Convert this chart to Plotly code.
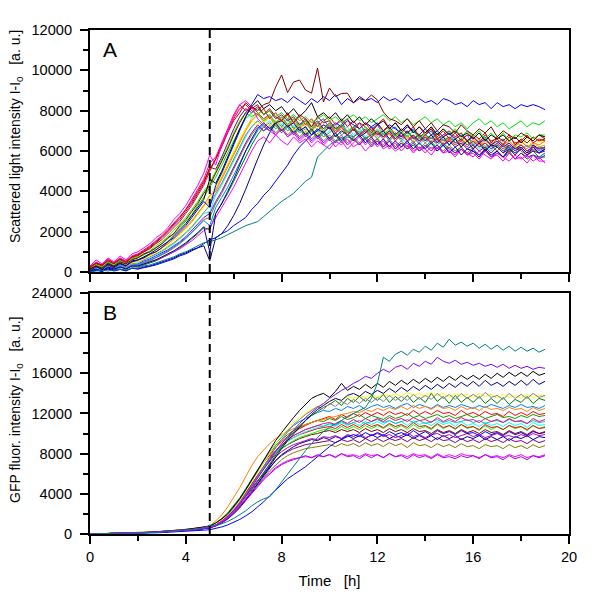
import plotly.graph_objects as go

# ---------------- data ----------------
time_h = [i * 0.25 for i in range(77)]          # 0 ... 19 h, 15 min sampling
induction_time_h = 5.0

# Panel A: scattered light intensity I-I0 [a.u.]
scat_wine = [100,300,200,450, 300,500,400,600, 700,900,1000,1200, 1400,1700,1900,2300, 2600,3000,3400,3900, 4300,4900,5500,6100, 6800,7400,7900,8200, 8000,8300,8400,9170, 9770,8900,9420,9520, 9020,8870,10110,8430, 9120,8700,8850,8870, 8380,8600,8500,8780, 8530,7930,7600,7500, 7300,7600,7200,7500, 7100,7400,7000,7300, 7200,6900,7300,7000, 6800,7100,6900,7200, 6700,7000,6800,6600, 6900,6700,6500,6800, 6600]
scat_blue = [50,250,150,350, 200,400,300,500, 600,700,900,1000, 1200,1500,1700,2000, 2300,2700,3100,3500, 3200,4300,4900,5600, 6300,7000,7700,8300, 8800,8600,8700,8500, 8600,8400,8700,8500, 8300,8600,8400,8700, 8500,8800,8300,8600, 8400,8700,8500,8600, 8400,8700,8500,8600, 8400,8800,8500,8600, 8400,8500,8300,8600, 8500,8300,8400,8200, 8500,8300,8400,8100, 8400,8200,8300,8100, 8300,8200,8300,8200, 8050]
scat_navy = [0,100,50,200, 100,150,50,200, 150,250,300,400, 500,600,700,850, 950,1100,1200,1300, 550,1700,1900,2300, 2800,3400,4100,4900, 5600,6300,6900,7400, 7500,7200,7400,7000, 7200,6800,7100,6900, 7200,6700,7000,6800, 7100,6700,6900,7200, 6800,7000,6600,6900, 6700,7000,6600,6800, 6500,6800,6400,6700, 6300,6600,6200,6500, 6100,6400,6000,6300, 6200,5900,6300,6000, 6200,5900,6300,6100, 6200]
scat_blue_late = [0,80,30,150, 50,120,80,180, 150,200,280,350, 450,550,650,800, 900,1050,1200,1400, 1600,1700,1900,2050, 2300,2500,2700,3100, 3400,3800,4100,4500, 4900,5300,5800,6200, 6500,6800,7000,7300, 7100,7400,7200,7500, 7300,7100,7400,7200, 7400,7000,7300,7100, 6900,7200,7000,6800, 7100,6800,7000,6700, 6900,6600,6800,6500, 6700,6400,6600,6300, 6500,6200,6400,6100, 6300,6000,6200,5900, 6100]
scat_teal = [0,50,100,50, 100,150,100,200, 200,300,350,450, 550,650,750,900, 1000,1150,1300,1450, 1500,1600,1700,1850, 2000,2150,2300,2400, 2500,2750,3000,3250, 3500,3700,3900,4200, 4500,4700,5700,6000, 6300,6500,6600,6800, 6700,6900,6600,6800, 6900,6700,7000,6800, 6600,6900,6700,6500, 6800,6600,6900,6500, 6700,6400,6600,6300, 6500,6200,6400,6100, 6300,6000,6200,5900, 6100,5800,6000,5700, 5900]
scat_red = [200,400,300,600, 450,650,500,700, 800,1000,1150,1400, 1600,1900,2200,2500, 2900,3300,3800,4300, 5000,5600,6300,7000, 7600,8100,8300,8000, 7800,8100,7600,7900, 7500,7800,7400,7700, 7300,7600,7200,7500, 7700,7300,7600,7200, 7500,7100,7400,7000, 7300,7600,7100,7400, 7000,7300,6900,7200, 6800,7100,6700,7000, 6600,6900,6500,6800, 6700,6400,6800,6500, 6600,6300,6700,6400, 6500,6800,6400,6600, 6500]
scat_magenta = [300,600,400,700, 500,800,600,900, 1000,1200,1400,1700, 1900,2200,2600,2900, 3300,3800,4300,4900, 5800,5300,6300,7000, 7700,8300,8500,8200, 7600,7300,7000,6800, 7100,6700,6900,6500, 6800,6400,6700,6300, 6600,6200,6500,6100, 6400,6700,6300,6600, 6200,6500,6100,6400, 6000,6300,5900,6200, 6100,5800,6200,5900, 6000,5700,6100,5800, 5900,5600,6000,5700, 5800,5500,5900,5600, 5700,5400,5800,5500, 5500]
scat_green = [100,350,200,450, 300,550,400,650, 700,850,1000,1200, 1400,1650,1900,2200, 2500,2850,3300,3700, 4200,4700,5300,5900, 6500,7100,7600,7900, 8100,7800,8000,7700, 7900,7600,7800,7500, 7700,7400,7600,7800, 7500,7700,7400,7600, 7800,7500,7700,7400, 7600,7800,7500,7700, 7400,7600,7300,7500, 7700,7400,7600,7300, 7500,7200,7400,7100, 7400,7600,7300,7500, 7200,7400,7100,7300, 7500,7200,7400,7300, 7500]
scat_black = [150,300,100,400, 250,450,300,550, 600,750,900,1100, 1300,1500,1800,2100, 2400,2800,3200,3600, 4600,4400,5000,5700, 6400,7100,7700,8200, 8500,8100,8300,8000, 8200,7800,8100,7700, 8000,8400,7700,7900, 7600,7900,7500,7800, 7400,7700,7300,7600, 7300,7500,7100,7400, 7000,7300,6900,7200, 6900,7200,6800,7100, 6800,7000,6700,6900, 6600,6900,6500,6800, 6600,6800,6500,6700, 6400,6700,6500,6800, 6700]
scat_yellow = [100,250,150,350, 200,400,300,450, 500,650,800,950, 1100,1300,1550,1800, 2100,2450,2800,3200, 3700,4200,4800,5400, 6000,6600,7100,7500, 7300,7600,7200,7500, 7100,7400,7000,7300, 6900,7200,6800,7100, 7300,6900,7200,6800, 7100,6700,7000,6600, 6900,7200,6800,7000, 6700,7000,6600,6900, 6500,6800,6400,6700, 6600,6300,6700,6400, 6500,6200,6600,6300, 6400,6100,6500,6200, 6300,6600,6200,6500, 6400]
scat_cyan = [50,200,100,300, 150,350,250,400, 450,600,700,850, 1000,1200,1400,1650, 1900,2200,2550,2900, 3000,3800,4300,4900, 5500,6100,6700,7200, 7500,7200,7500,7100, 7400,7000,7300,6900, 7200,6800,7100,6700, 7000,7300,6900,7200, 6800,7100,6700,7000, 6600,6900,6500,6800, 6600,6400,6700,6300, 6600,6300,6500,6200, 6500,6200,6400,6100, 6400,6100,6300,6000, 6300,6000,6200,6100, 6300,6000,6200,5900, 6200]
scat_purple = [200,450,300,550, 400,600,450,750, 850,1000,1200,1450, 1700,2000,2300,2600, 3000,3400,3900,4400, 5200,5100,5700,6400, 7100,7700,8100,7900, 8200,7800,8000,7600, 7800,7500,7700,7300, 7600,7200,7500,7100, 7400,7000,7300,6900, 7200,6800,7100,6800, 7000,6700,7000,6600, 6900,6500,6800,6500, 6700,6400,6600,6300, 6500,6200,6400,6100, 6300,6000,6200,5900, 6200,5900,6100,5800, 6100,5800,6000,5900, 6000]
scat_olive = [0,150,50,250, 100,300,150,350, 350,450,550,700, 850,1000,1200,1400, 1650,1950,2250,2600, 2700,3400,3900,4500, 5100,5700,6300,6800, 7200,7000,7300,6900, 7200,6800,7100,6700, 7000,6600,6900,6500, 6800,6500,6800,6400, 6700,6400,6700,6300, 6600,6300,6600,6200, 6500,6200,6500,6100, 6400,6100,6300,6000, 6300,6000,6200,5900, 6200,6400,6100,6300, 6000,6300,5900,6200, 6000,5800,6100,5900, 6100]
scat_dkgreen = [50,200,0,250, 100,250,150,300, 250,350,450,550, 700,850,1000,1200, 1400,1650,1900,2200, 2100,2900,3400,3900, 4500,5100,5700,6300, 6800,7200,7000,7300, 6900,7200,6800,7100, 6700,7000,6600,6900, 6500,6800,6400,6700, 6600,6300,6700,6400, 6600,6200,6500,6100, 6400,6100,6300,6000, 6200,6500,6100,6400, 6100,5900,6200,5800, 6000,5800,6100,5700, 5900,5700,6000,5600, 5900,5600,5800,5700, 5700]
scat_orange = [100,300,200,400, 250,450,350,500, 600,700,850,1000, 1200,1400,1650,1900, 2200,2500,2900,3300, 3800,4000,4600,5200, 5800,6400,7000,7500, 7800,7500,7700,7300, 7600,7200,7500,7100, 7400,7000,7300,6900, 7200,6900,7100,6800, 7100,6800,7000,6700, 7000,6700,6900,6600, 6900,6600,6800,6500, 6800,6500,6700,6400, 6700,6400,6600,6300, 6600,6300,6500,6300, 6600,6300,6500,6200, 6500,6200,6400,6300, 6500]
scat_violet = [0,200,100,350, 200,350,250,450, 400,550,650,800, 950,1100,1300,1500, 1750,2050,2350,2700, 2900,3500,4000,4600, 5200,5800,6400,6900, 7300,7000,7200,6800, 7100,6700,7000,6600, 6900,6500,6800,6400, 6700,6400,6700,6300, 6600,6300,6600,6200, 6500,6200,6500,6100, 6400,6100,6400,6000, 6300,6000,6300,5900, 6200,5900,6100,5800, 6100,5800,6000,5700, 6000,5700,5900,5600, 5900,5700,5800,5600, 5800]
scat_pink = [250,500,350,650, 450,700,550,800, 900,1100,1300,1550, 1800,2100,2400,2750, 3100,3600,4100,4600, 5400,5700,6400,7100, 7800,8300,8000,8200, 7900,7600,7800,7400, 7700,7300,7600,7200, 7500,7100,7400,7000, 7300,6900,7200,6800, 7100,6800,7000,6700, 6900,6600,6900,6500, 6800,6500,6700,6400, 6700,6400,6600,6300, 6600,6300,6500,6200, 6500,6200,6400,6100, 6400,6100,6300,6000, 6300,6000,6200,6100, 6200]
scat_gray = [100,250,150,300, 200,350,250,400, 500,600,750,900, 1050,1250,1450,1700, 1950,2250,2600,3000, 3300,3900,4400,5000, 5600,6200,6800,7200, 7500,7200,7400,7100, 7300,7000,7200,6900, 7100,6800,7000,6700, 6900,7200,6800,7000, 6700,7000,6600,6900, 6600,6900,6500,6800, 6500,6800,6400,6700, 6400,6700,6300,6600, 6300,6600,6200,6500, 6300,6500,6100,6400, 6200,6400,6000,6300, 6100,6300,6000,6200, 6100]
scat_royal = [50,150,50,250, 150,250,150,300, 300,400,500,600, 750,900,1050,1250, 1450,1700,1950,2250, 1000,2900,3400,4000, 4600,5300,6000,6600, 7100,7400,7100,7400, 7000,7300,6900,7200, 6800,7100,6700,7000, 6600,6900,6500,6800, 6500,6800,6400,6700, 6300,6600,6200,6500, 6200,6500,6100,6400, 6100,6400,6000,6300, 5900,6200,5800,6100, 6000,5700,6100,5800, 6000,5700,6100,5900, 6100,5800,6200,5900, 6100]
scat_lime = [150,350,250,500, 350,550,400,650, 750,900,1050,1300, 1500,1750,2050,2350, 2700,3100,3500,4000, 4400,5000,5600,6200, 6900,7500,7900,7700, 7900,7500,7800,7400, 7700,7300,7600,7200, 7500,7100,7400,7000, 7400,7000,7300,6900, 7200,6900,7200,6800, 7100,6800,7100,6700, 7000,6700,7000,6600, 6900,7200,6800,7100, 6800,7100,6700,7000, 6700,7000,6600,6900, 6600,6900,6500,6800, 6700,6900,6600,6800, 6800]
scat_azure = [50,180,90,260, 140,300,200,350, 380,480,600,720, 880,1050,1250,1450, 1700,1950,2250,2550, 2300,3200,3700,4200, 4800,5400,6000,6500, 7000,7300,7000,7500, 7200,7600,7100,7300, 7500,7000,7400,7600, 7100,7300,7500,6900, 7200,7400,6900,7100, 7300,6800,7000,7200, 6700,6900,7100,6600, 6800,7000,6500,6700, 6900,6400,6600,6800, 6300,6500,6700,6200, 6400,6600,6100,6300, 6500,6200,6300,6000, 6200]
scat_dkred = [250,450,350,550, 400,650,500,750, 850,1050,1250,1500, 1750,2050,2350,2700, 3100,3500,4000,4500, 5100,5600,6200,6900, 7500,7900,8400,8100, 8300,7800,8100,7700, 7500,7900,7400,7800, 7600,7200,7700,7400, 7500,7100,7300,7600, 7000,7400,7200,6900, 7300,7000,7200,6800, 7100,6900,7200,6700, 6900,7100,6600,6800, 7000,6700,6900,6500, 6800,6600,6900,6400, 6700,6500,6800,6300, 6600,6400,6700,6500, 6600]
scat_dkyellow = [100,200,300,250, 300,400,350,500, 550,700,850,1000, 1200,1400,1650,1900, 2200,2550,2900,3300, 3500,4100,4700,5300, 5900,6500,7100,7600, 7900,7400,7700,7200, 7500,7800,7100,7400, 7200,7500,7000,7300, 7100,6900,7300,7000, 7200,6800,7000,7100, 6700,7000,6800,6600, 6900,6700,6500,6800, 6600,6800,6400,6700, 6500,6700,6300,6600, 6400,6600,6200,6500, 6300,6500,6200,6400, 6300,6100,6400,6200, 6300]
scat_magenta_low = [0,100,200,100, 150,250,200,300, 300,400,500,600, 700,850,1000,1150, 1350,1550,1800,2050, 2200,2700,3200,3700, 4200,4800,5400,6000, 6500,6700,6400,6800, 6500,6300,6700,6400, 6600,6200,6500,6300, 6100,6500,6300,6600, 6200,6400,6000,6300, 6500,6100,6300,6000, 6200,6400,6000,6200, 5900,6200,6000,6300, 6000,5800,6100,5900, 5700,6000,5800,5600, 5900,5700,5500,5800, 5600,5800,5500,5700, 5400]

# Panel B: GFP fluorescence intensity I-I0 [a.u.]
gfp_teal = [0,10,20,30, 40,50,60,80, 100,120,140,170, 200,240,280,330, 380,440,500,580, 900,800,1000,1250, 1550,1900,2300,2800, 3200,3500,3700,4400, 5200,6000,6800,7600, 8300,9000,9600,10200, 10600,11000,11300,11700, 12000,12300,12600,13500, 15000,17600,17200,17900, 18200,17800,18400,18100, 18700,18300,19000,18600, 19400,18800,19100,18700, 19000,18500,18900,18400, 18800,18300,18700,18200, 18600,18200,18500,18100, 18400]
gfp_violet = [0,10,20,30, 40,50,70,90, 110,130,160,190, 220,260,300,350, 400,460,530,610, 700,900,1250,1700, 2300,3000,3800,4700, 5600,6500,7400,8200, 9000,9700,10400,11000, 11600,12100,12600,13000, 13500,13900,14300,14600, 15000,15300,15700,15500, 16000,16400,16100,16600, 16800,16400,17000,16700, 17200,16900,17600,17200, 17000,17300,16900,17100, 16800,17000,16700,16900, 16600,16900,16500,16800, 16500,16700,16400,16600, 16500]
gfp_black = [0,10,20,30, 40,60,80,100, 120,150,180,210, 250,290,340,390, 450,520,600,680, 780,1100,1500,2000, 2700,3500,4400,5400, 6400,7400,8400,9300, 10100,10900,11600,12300, 12900,13500,13800,14000, 13600,14200,15000,14300, 14700,14400,14900,14500, 15000,14600,15200,14800, 15300,14900,15400,15000, 15500,15100,15600,15200, 15700,15300,15800,15400, 15800,15400,15900,15500, 16000,15600,16100,15700, 16100,15700,16200,15800, 16000]
gfp_navy = [0,10,15,25, 35,45,60,75, 95,115,135,160, 190,220,260,300, 350,400,460,530, 620,800,1100,1500, 2000,2600,3300,4100, 5000,5900,6800,7700, 8500,9300,10000,10700, 11300,11900,12400,12800, 13200,13500,13300,13800, 14000,13700,14200,13900, 14300,14000,14500,14100, 14600,14200,14700,14300, 14800,14400,14900,14500, 15000,14600,15100,14700, 15200,14700,15300,14800, 15100,14700,15200,14800, 15300,14800,15400,14900, 15200]
gfp_gray = [0,10,20,30, 40,55,70,90, 110,130,155,185, 215,250,290,335, 385,440,500,570, 650,900,1250,1700, 2300,3000,3800,4700, 5700,6700,7700,8600, 9400,10200,10900,11400, 11900,12300,12700,12400, 13000,12700,13200,12900, 13400,13000,13500,13100, 13600,13200,13800,13300, 13700,13300,13900,13400, 13800,13400,14000,13500, 13900,13400,14000,13500, 13900,13500,14100,13600, 13800,13400,14000,13500, 13900,13500,14000,13600, 13800]
gfp_dkgreen = [0,10,15,25, 35,50,65,80, 100,120,145,170, 200,235,270,315, 360,415,475,545, 620,850,1150,1550, 2100,2700,3500,4300, 5200,6100,7000,7900, 8700,9500,10200,10800, 11300,11800,12200,12600, 12900,13300,12800,13500, 13100,13700,13200,13800, 13300,13900,13100,13700, 13200,13800,13100,13600, 13100,14000,13200,13700, 13000,13800,13100,13600, 13100,13700,13000,13500, 13000,13600,12900,13400, 13100,13700,13000,13500, 13300]
gfp_orange = [0,15,25,40, 55,70,90,110, 135,160,190,225, 260,300,350,400, 460,530,610,700, 800,1300,1900,2700, 3600,4600,5700,6800, 7700,8400,9000,9500, 9900,10200,10500,10700, 10900,11100,11300,11400, 11600,11700,11900,12000, 12200,12100,12400,12200, 12500,12300,12600,12400, 12700,12400,12800,12500, 12700,12400,12800,12500, 12600,12300,12700,12400, 12600,12300,12700,12400, 12500,12300,12600,12400, 12500,12200,12600,12300, 12500]
gfp_red = [0,10,20,35, 45,60,80,100, 120,145,170,200, 235,275,320,370, 420,485,555,635, 720,1000,1400,1900, 2600,3400,4300,5300, 6200,7100,7900,8600, 9200,9700,10100,10500, 10800,11100,11300,11500, 11700,11400,11900,11600, 12000,11700,12100,11800, 12100,11800,12200,11900, 12100,11800,12300,11900, 12200,11900,12300,12000, 12100,11800,12300,11900, 12100,11800,12200,11900, 12000,11700,12200,11800, 12100,11800,12200,11900, 12000]
gfp_pink = [0,10,20,30, 40,55,75,95, 115,140,165,195, 230,265,310,355, 405,465,535,610, 700,950,1300,1800, 2400,3200,4100,5000, 5900,6800,7600,8300, 8900,9400,9800,10100, 10400,10600,10800,11000, 11100,10900,11300,11000, 11400,11100,11500,11200, 11500,11200,11600,11300, 11500,11200,11600,11300, 11400,11100,11600,11200, 11500,11200,11600,11300, 11400,11100,11500,11200, 11400,11100,11500,11200, 11300,11000,11500,11200, 11400]
gfp_cyan = [0,10,15,25, 35,50,65,85, 105,125,150,180, 210,245,285,330, 380,435,500,575, 660,900,1250,1700, 2300,3000,3900,4800, 5700,6600,7400,8100, 8700,9200,9600,9900, 10200,10400,10600,10800, 10900,10700,11100,10800, 11100,10800,11200,10900, 11200,10900,11300,11000, 11200,10800,11300,10900, 11100,10800,11200,10900, 11100,10700,11200,10800, 11000,10700,11100,10800, 11000,10700,11100,10800, 11000,10600,11100,10800, 10900]
gfp_lime = [0,10,20,30, 40,55,70,90, 110,135,160,190, 225,260,300,350, 400,460,525,600, 690,950,1300,1800, 2400,3200,4000,4900, 5800,6600,7400,8000, 8500,8900,9300,9600, 9800,10000,10200,10400, 10500,10300,10700,10400, 10700,10400,10800,10500, 10800,10500,10900,10500, 10800,10400,10900,10500, 10700,10400,10900,10500, 10800,10400,10900,10500, 10700,10300,10800,10400, 10700,10400,10800,10500, 10700,10300,10800,10500, 10700]
gfp_yellow = [0,10,20,30, 40,55,75,95, 115,140,165,195, 230,270,315,365, 420,480,550,630, 720,1000,1400,1900, 2500,3300,4200,5100, 6100,7100,8100,9000, 9800,10500,11100,11600, 12000,12400,12700,13000, 13200,13500,13300,13700, 13500,13800,13600,13900, 13600,14000,13700,14000, 13700,14100,13800,14000, 13700,14100,13800,14000, 13600,14000,13700,13900, 13600,14000,13700,13900, 13500,13900,13600,13800, 13500,13900,13600,13800, 13700]
gfp_blue = [0,5,10,15, 25,35,45,55, 70,85,100,120, 140,165,190,220, 255,290,330,380, 430,550,700,900, 1150,1450,1800,2200, 2700,3200,3800,4400, 5000,5500,5900,6300, 6700,7200,7700,8200, 8700,9100,9400,9700, 9900,9700,10100,9800, 10100,9800,10200,9900, 10100,9800,10300,9900, 10200,9800,10300,10000, 10200,9900,10300,10000, 10100,9800,10200,9900, 10100,9800,10200,9900, 10100,9800,10200,10000, 10100]
gfp_magenta = [0,10,20,30, 40,55,70,90, 110,130,155,185, 215,250,290,335, 385,440,505,575, 660,900,1250,1650, 2200,2800,3500,4200, 4900,5500,6100,6600, 7000,7300,7500,7600, 7700,7600,7800,7700, 7900,7700,8000,7800, 7900,7700,8000,7800, 7900,7600,8000,7700, 7900,7700,8000,7800, 7900,7600,8000,7700, 7900,7700,8000,7800, 7800,7600,7900,7700, 7800,7600,7900,7700, 7900,7600,7800,7700, 7900]
gfp_purple = [0,10,20,30, 40,55,70,90, 110,135,160,190, 225,260,300,345, 395,450,515,590, 680,950,1300,1750, 2300,3000,3700,4500, 5300,6000,6700,7300, 7800,8200,8500,8700, 8900,9000,9100,9200, 9300,9100,9400,9200, 9400,9100,9500,9200, 9500,9200,9500,9300, 9500,9200,9600,9300, 9500,9200,9600,9300, 9400,9100,9500,9200, 9400,9100,9500,9200, 9400,9100,9500,9200, 9300,9000,9400,9100, 9300]
gfp_olive = [0,10,15,25, 35,50,65,80, 100,120,145,170, 200,235,270,315, 360,415,475,545, 625,870,1200,1600, 2100,2700,3400,4100, 4900,5600,6300,6900, 7400,7800,8100,8300, 8500,8600,8700,8800, 8900,8700,9000,8800, 9000,8700,9100,8800, 9000,8700,9100,8800, 9000,8600,9100,8800, 8900,8600,9000,8700, 8900,8600,9000,8700, 8800,8500,8900,8700, 8800,8500,8900,8600, 8800,8500,8900,8600, 8800]
gfp_wine = [0,10,20,30, 40,55,70,90, 110,135,160,190, 220,255,295,340, 390,445,510,585, 670,930,1280,1750, 2350,3100,3900,4800, 5700,6500,7300,8000, 8500,8900,9200,9500, 9700,9900,10000,10200, 10300,10100,10400,10200, 10400,10100,10500,10200, 10400,10100,10500,10200, 10400,10100,10500,10200, 10300,10000,10400,10100, 10300,10000,10400,10100, 10300,10000,10400,10100, 10200,9900,10300,10000, 10200,9900,10300,10000, 10200]
gfp_royal = [0,10,15,25, 35,45,60,80, 100,120,140,165, 195,225,260,300, 345,400,460,530, 610,850,1150,1550, 2050,2700,3400,4200, 5000,5800,6600,7300, 7900,8300,8700,9000, 9200,9400,9300,9600, 9400,9700,9500,9800, 9500,9800,9500,9900, 9600,9900,9500,9800, 9600,9900,9500,9800, 9500,9800,9400,9800, 9500,9800,9400,9700, 9500,9800,9400,9700, 9400,9700,9300,9700, 9500,9800,9400,9700, 9600]
gfp_violet_low = [0,10,15,25, 35,50,65,80, 100,120,145,170, 200,230,265,305, 350,400,460,530, 610,850,1150,1550, 2050,2650,3300,4000, 4700,5400,6000,6500, 6900,7200,7400,7600, 7800,7600,7900,7700, 7900,7600,8000,7700, 7800,7500,7900,7600, 7900,7600,8000,7700, 7800,7500,7900,7600, 7800,7500,7900,7600, 7700,7500,7800,7600, 7800,7500,7900,7600, 7700,7400,7800,7500, 7700,7400,7800,7600, 7800]
gfp_red2 = [0,10,20,30, 40,55,75,95, 115,140,165,195, 230,265,305,350, 400,460,530,605, 690,960,1320,1800, 2400,3200,4000,4900, 5800,6700,7500,8200, 8800,9300,9600,9900, 10100,10300,10500,10600, 10700,10500,10900,10600, 10900,10600,11000,10700, 10900,10600,11000,10700, 10900,10600,11100,10700, 10800,10500,11000,10600, 10800,10500,10900,10600, 10700,10400,10900,10600, 10700,10400,10800,10600, 10700,10400,10800,10500, 10600]
gfp_azure = [0,10,20,30, 45,60,80,100, 125,150,180,210, 245,285,330,380, 435,500,575,655, 750,1050,1450,1950, 2600,3400,4300,5300, 6300,7300,8200,9000, 9700,10300,10800,11200, 11500,11800,12100,12300, 12200,12500,12300,12700, 12500,12800,12400,12700, 12900,12600,12800,12500, 12800,13000,12600,12900, 12700,12500,12900,12600, 12800,12600,12900,12700, 12500,12800,12600,12900, 12700,12500,12800,12600, 12900,12600,12700,12500, 12800]
gfp_green2 = [0,15,25,35, 50,65,85,105, 130,155,185,215, 250,290,335,385, 440,505,580,660, 760,1100,1550,2100, 2800,3600,4500,5500, 6400,7300,8100,8800, 9400,9900,10300,10600, 10900,11100,11300,11200, 11500,11300,11700,11400, 11600,11900,11500,11800, 11600,11400,11800,11500, 11700,12000,11600,11800, 11500,11700,11900,11600, 11800,11500,11700,11900, 11600,11800,11500,11700, 11900,11600,11700,11500, 11800,11600,11900,11700, 11800]
gfp_plum = [0,10,15,25, 35,50,65,80, 100,120,145,170, 200,235,270,315, 360,415,475,545, 625,880,1200,1650, 2200,2900,3700,4500, 5400,6200,7000,7700, 8200,8600,8900,9100, 9300,9500,9400,9700, 9600,9800,9500,9900, 9700,10000,9600,9800, 10000,9700,9900,9600, 9800,10100,9700,9900, 9600,9900,10000,9700, 9900,9600,9800,10000, 9700,9900,9600,9800, 10000,9700,9800,9600, 9900,9700,10000,9800, 9900]
gfp_aqua = [0,10,20,30, 40,55,75,95, 115,140,165,195, 230,270,310,360, 410,470,540,620, 700,980,1350,1850, 2450,3200,4100,5000, 5900,6800,7600,8300, 8900,9400,9800,10100, 10400,10600,10800,10700, 11000,10800,11200,10900, 11100,11300,11000,11200, 11400,11100,11300,11000, 11200,11400,11100,11300, 11000,11200,11400,11100, 11300,11100,11200,11400, 11100,11300,11000,11200, 11300,11100,11400,11200, 11200,11000,11300,11100, 11200]

# ---------------- styles ----------------
scatter_traces = [
    (scat_dkgreen, "#008000"), (scat_olive, "#808000"), (scat_violet, "#8000FF"),
    (scat_magenta_low, "#FF00FF"), (scat_azure, "#0080FF"), (scat_dkyellow, "#C0C000"),
    (scat_cyan, "#00FFFF"), (scat_gray, "#808080"), (scat_yellow, "#FFFF00"),
    (scat_orange, "#FF8000"), (scat_royal, "#0000A0"), (scat_navy, "#000080"),
    (scat_blue_late, "#0000FF"), (scat_teal, "#008080"), (scat_purple, "#800080"),
    (scat_pink, "#FF0080"), (scat_red, "#FF0000"), (scat_dkred, "#C00000"),
    (scat_lime, "#00FF00"), (scat_green, "#00E000"), (scat_black, "#000000"),
    (scat_magenta, "#FF00FF"), (scat_blue, "#0000FF"), (scat_wine, "#800000"),
]
gfp_traces = [
    (gfp_olive, "#808000"), (gfp_purple, "#800080"), (gfp_royal, "#0000A0"),
    (gfp_plum, "#C000C0"), (gfp_blue, "#0000FF"), (gfp_wine, "#800000"),
    (gfp_lime, "#00FF00"), (gfp_red2, "#FF0000"), (gfp_cyan, "#00FFFF"),
    (gfp_aqua, "#00C0C0"), (gfp_pink, "#FF0080"), (gfp_green2, "#00A000"),
    (gfp_red, "#FF0000"), (gfp_azure, "#0080FF"), (gfp_orange, "#FF8000"),
    (gfp_yellow, "#FFFF00"), (gfp_dkgreen, "#008000"), (gfp_gray, "#808080"),
    (gfp_navy, "#000080"), (gfp_black, "#000000"), (gfp_violet, "#8000FF"),
    (gfp_magenta, "#FF00FF"), (gfp_violet_low, "#A000FF"), (gfp_teal, "#008080"),
]

all_tr = scatter_traces + gfp_traces
bad = [(i, len(v)) for i, (v, c) in enumerate(all_tr) if len(v) != len(time_h)]
if bad:
    raise SystemExit("bad lengths: %s" % bad)

fig = go.Figure()
for vals, col in scatter_traces:
    fig.add_trace(go.Scatter(x=time_h, y=vals, mode="lines", xaxis="x", yaxis="y",
                             line=dict(color=col, width=1), showlegend=False, hoverinfo="skip"))
for vals, col in gfp_traces:
    fig.add_trace(go.Scatter(x=time_h, y=vals, mode="lines", xaxis="x2", yaxis="y2",
                             line=dict(color=col, width=1), showlegend=False, hoverinfo="skip"))

FONT = "Arial, Liberation Sans, sans-serif"
axis_common = dict(showline=True, linecolor="black", linewidth=2, mirror=True,
                   ticks="outside", ticklen=8, tickwidth=1.5, tickcolor="black",
                   showgrid=False, zeroline=False, automargin=False,
                   tickfont=dict(family=FONT, size=14.6, color="black"))
minor_common = dict(ticklen=5, tickwidth=1.5, tickcolor="black", ticks="outside")
sp = "\u00a0"

# plot-area geometry in pixels (for placing the rotated y-axis titles)
PLOT_L, PLOT_W, PLOT_B, PLOT_H = 90, 479, 534, 504
def px_x(px):
    return (px - PLOT_L) / PLOT_W
def px_y(px):
    return (PLOT_B - px) / PLOT_H

fig.update_layout(
    width=600, height=607,
    margin=dict(l=90, r=31, t=30, b=73),
    paper_bgcolor="white", plot_bgcolor="white",
    font=dict(family=FONT, color="black"),
    xaxis=dict(domain=[0, 1], anchor="y", range=[0, 20], tickvals=[0, 4, 8, 12, 16, 20],
               showticklabels=False, matches="x2", minor=dict(dtick=2, **minor_common),
               **axis_common),
    yaxis=dict(domain=[0.5198, 1], anchor="x", range=[0, 12000], dtick=2000, tickformat="d",
               minor=dict(dtick=1000, **minor_common), ticklabelstandoff=5,
               **axis_common),
    xaxis2=dict(domain=[0, 1], anchor="y2", range=[0, 20], tickvals=[0, 4, 8, 12, 16, 20],
                minor=dict(dtick=2, **minor_common),
                title=dict(text="Time" + sp * 3 + "[h]", font=dict(family=FONT, size=15, color="black"),
                           standoff=12),
                **axis_common),
    yaxis2=dict(domain=[0, 0.4782], anchor="x2", range=[0, 24000], dtick=4000, tickformat="d",
                minor=dict(dtick=2000, **minor_common), ticklabelstandoff=5,
                **axis_common),
    shapes=[
        dict(type="line", xref="x", yref="y", x0=induction_time_h, x1=induction_time_h, y0=0, y1=12000,
             line=dict(color="black", width=2, dash="8px,5px")),
        dict(type="line", xref="x2", yref="y2", x0=induction_time_h, x1=induction_time_h, y0=0, y1=24000,
             line=dict(color="black", width=2, dash="8px,5px")),
    ],
    annotations=[
        dict(text="A", xref="x domain", yref="y domain", x=0.024, y=0.975, xanchor="left", yanchor="top",
             showarrow=False, font=dict(family=FONT, size=21, color="black")),
        dict(text="B", xref="x2 domain", yref="y2 domain", x=0.024, y=0.975, xanchor="left", yanchor="top",
             showarrow=False, font=dict(family=FONT, size=21, color="black")),
        dict(text="Scattered light intensity I-I<sub>0</sub>" + sp * 3 + "[a. u.]", textangle=-90,
             xref="paper", yref="paper", x=px_x(16), y=px_y(137), xanchor="center", yanchor="middle",
             showarrow=False, font=dict(family=FONT, size=14, color="black")),
        dict(text="GFP fluor. intensity I-I<sub>0</sub>" + sp * 3 + "[a. u.]", textangle=-90,
             xref="paper", yref="paper", x=px_x(16), y=px_y(410), xanchor="center", yanchor="middle",
             showarrow=False, font=dict(family=FONT, size=14, color="black")),
    ],
)

fig.write_html("out.html", config={"displayModeBar": False},
               post_script="document.body.style.margin='0';")
